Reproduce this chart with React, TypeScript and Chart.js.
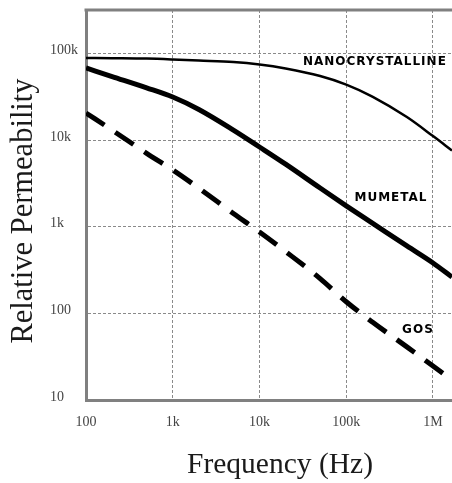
import React, { useEffect, useRef } from "react";
import { Chart, registerables } from "chart.js";

Chart.register(...registerables);

// Frequency (Hz) sample points
const FREQUENCIES = [100, 200, 500, 1e3, 2e3, 5e3, 1e4, 2e4, 5e4, 1e5, 2e5, 5e5, 1e6, 1.656e6];
// Relative permeability per material
const NANOCRYSTALLINE = [88300, 87800, 86900, 85000, 82600, 79400, 74300, 66800, 54700, 43600, 31700, 18400, 11100, 7570];
const MUMETAL = [67800, 54000, 40000, 31300, 22500, 13000, 8300, 5260, 2790, 1740, 1100, 599, 381, 262];
const GOS = [20500, 13000, 7020, 4510, 2780, 1420, 867, 516, 252, 136, 79.4, 41, 24.7, 17];

const X_TICKS = [100, 1e3, 1e4, 1e5, 1e6];
const X_TICK_LABELS = ["100", "1k", "10k", "100k", "1M"];
const Y_TICKS = [10, 100, 1e3, 1e4, 1e5];
const Y_TICK_LABELS = ["10", "100", "1k", "10k", "100k"];

const SERIES_NAMES = ["NANOCRYSTALLINE", "MUMETAL", "GOS"];
const LABEL_FREQ = [214000, 328000, 671000];
const LABEL_VALUE = [80000, 2150, 64];

const X_TITLE = "Frequency (Hz)";
const Y_TITLE = "Relative Permeability";

const annotatePlugin = {
  id: "annotate",
  afterDatasetsDraw(chart: any) {
    const { ctx, scales } = chart;
    ctx.save();
    ctx.font = 'bold 12px "DejaVu Sans"';
    try { (ctx as any).letterSpacing = "1px"; } catch (e) {}
    ctx.fillStyle = "#000";
    ctx.textAlign = "center";
    ctx.textBaseline = "middle";
    SERIES_NAMES.forEach((name, i) => {
      const x = scales.x.getPixelForValue(LABEL_FREQ[i]);
      const y = scales.y.getPixelForValue(LABEL_VALUE[i]);
      ctx.fillText(name, x, y);
    });
    ctx.restore();
  },
  afterDraw(chart: any) {
    const { ctx, chartArea } = chart;
    ctx.save();
    // top frame line
    ctx.strokeStyle = "#808080";
    ctx.lineWidth = 3;
    ctx.beginPath();
    ctx.moveTo(chartArea.left - 1.5, chartArea.top);
    ctx.lineTo(chartArea.right, chartArea.top);
    ctx.stroke();
    ctx.fillStyle = "#1a1a1a";
    ctx.textAlign = "center";
    ctx.textBaseline = "middle";
    ctx.font = '29.5px "Liberation Serif"';
    // x-axis title
    ctx.fillText(X_TITLE, chartArea.left + 194, chartArea.bottom + 65);
    // y-axis title
    ctx.translate(24, chartArea.top + 201);
    ctx.rotate(-Math.PI / 2);
    ctx.font = '30.5px "Liberation Serif"';
    ctx.fillText(Y_TITLE, 0, 0);
    ctx.restore();
  },
};

export default function App() {
  const ref = useRef<HTMLCanvasElement>(null);

  useEffect(() => {
    const chart = new Chart(ref.current!, {
      type: "line",
      data: {
        labels: FREQUENCIES,
        datasets: [
          {
            label: SERIES_NAMES[0],
            data: NANOCRYSTALLINE,
            borderColor: "#000",
            borderWidth: 2.5,
            pointRadius: 0,
            fill: false,
            cubicInterpolationMode: "monotone",
          },
          {
            label: SERIES_NAMES[1],
            data: MUMETAL,
            borderColor: "#000",
            borderWidth: 5,
            pointRadius: 0,
            fill: false,
            cubicInterpolationMode: "monotone",
          },
          {
            label: SERIES_NAMES[2],
            data: GOS,
            borderColor: "#000",
            borderWidth: 5,
            borderDash: [22, 13],
            borderCapStyle: "butt",
            pointRadius: 0,
            fill: false,
            cubicInterpolationMode: "monotone",
          },
        ],
      },
      options: {
        responsive: false,
        animation: false,
        devicePixelRatio: 1,
        layout: { padding: { left: 50, top: 10, right: 0, bottom: 0 } },
        plugins: {
          legend: { display: false },
          tooltip: { enabled: false },
        },
        scales: {
          x: {
            type: "logarithmic",
            min: 100,
            max: 1.656e6,
            afterBuildTicks: (s: any) => {
              s.ticks = X_TICKS.map((v) => ({ value: v }));
            },
            afterFit: (s: any) => {
              s.height = 83;
              s.paddingLeft = 0;
              s.paddingRight = 0;
            },
            ticks: {
              autoSkip: false,
              maxRotation: 0,
              padding: 14,
              color: "#444",
              font: { family: "Liberation Serif", size: 14 },
              callback: (_v: any, i: number) => X_TICK_LABELS[i],
            },
            grid: { color: "#8a8a8a", lineWidth: 1, drawTicks: false },
            border: { display: true, color: "#808080", width: 3, dash: [3, 2] },
          },
          y: {
            type: "logarithmic",
            min: 10,
            max: 316228,
            afterBuildTicks: (s: any) => {
              s.ticks = Y_TICKS.map((v) => ({ value: v }));
            },
            afterFit: (s: any) => {
              s.width = 36;
              s.paddingTop = 0;
              s.paddingBottom = 0;
            },
            ticks: {
              crossAlign: "far",
              labelOffset: -3,
              color: "#444",
              font: { family: "Liberation Serif", size: 14 },
              callback: (_v: any, i: number) => Y_TICK_LABELS[i],
            },
            grid: { color: "#8a8a8a", lineWidth: 1, drawTicks: false },
            border: { display: true, color: "#808080", width: 3, dash: [3, 2] },
          },
        },
      },
      plugins: [annotatePlugin],
    } as any);
    return () => chart.destroy();
  }, []);

  return (
    <div style={{ position: "fixed", left: 0, top: 0, width: 452, height: 483, background: "#fff" }}>
      <canvas ref={ref} width={452} height={483} style={{ display: "block", width: 452, height: 483 }} />
    </div>
  );
}
